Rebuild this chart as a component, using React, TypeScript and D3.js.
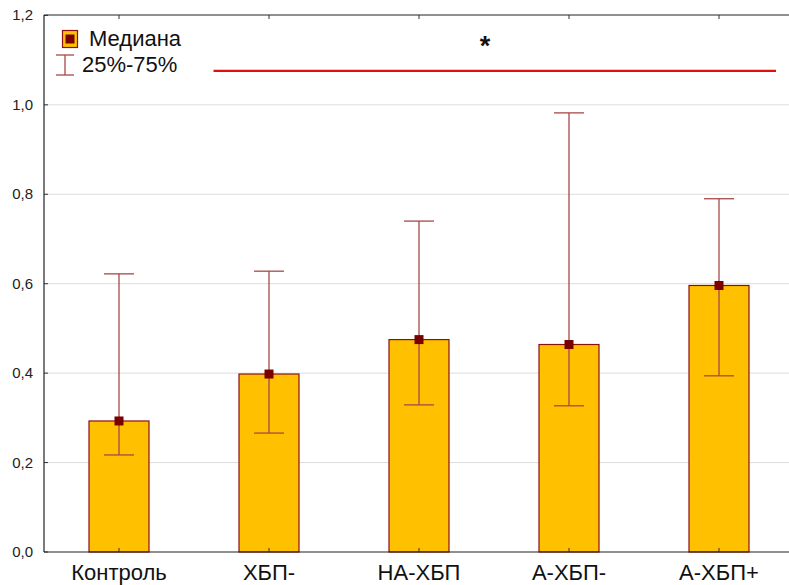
import React from "react";
import * as d3 from "d3";

const categories = ["Контроль", "ХБП-", "НА-ХБП", "А-ХБП-", "А-ХБП+"];
const medians = [0.293, 0.398, 0.475, 0.464, 0.596];
const q25 = [0.217, 0.266, 0.329, 0.327, 0.394];
const q75 = [0.622, 0.628, 0.74, 0.982, 0.79];
const yTicks = [0, 0.2, 0.4, 0.6, 0.8, 1.0, 1.2];
const sigLevel = 1.076;
const sigStart = 0.63; // band-step units from first category centre
const sigEnd = 4.38;
const sigStar = 2.44;

const W = 789;
const H = 585;
const left = 44;
const top = 15;
const bottom = 552;

export default function App() {
  const x = d3.scaleBand<string>().domain(categories).range([left, left + 750]).paddingInner(0.6).paddingOuter(0.3);
  const y = d3.scaleLinear().domain([0, 1.2]).range([bottom, top + 0.4]);
  const bw = 60;
  const cx = (c: string) => (x(c) as number) + x.bandwidth() / 2;
  const step = x.step();
  const c0 = cx(categories[0]);
  const font = "Liberation Sans, Arial, sans-serif";
  return (
    <svg width={W} height={H} style={{ position: "absolute", left: 0, top: 0, background: "#fff" }} fontFamily={font}>
      {yTicks.map((t) => (
        <g key={t}>
          {t > 0 && t < 1.2 && <line x1={left} x2={W} y1={y(t)} y2={y(t)} stroke="#dcdcdc" strokeWidth={1} />}
          <line x1={left} x2={left + 4} y1={y(t)} y2={y(t)} stroke="#333" />
          <text x={33} y={y(t) + 5} textAnchor="end" fontSize={15} fill="#222">
            {t.toFixed(1).replace(".", ",")}
          </text>
        </g>
      ))}
      <line x1={left} x2={W} y1={top} y2={top} stroke="#222" strokeWidth={1.2} />
      {categories.map((c, i) => {
        const xc = cx(c);
        return (
          <g key={c}>
            <rect x={xc - bw / 2} y={y(medians[i])} width={bw} height={bottom - y(medians[i])} fill="#FFC000" stroke="#8B1010" strokeWidth={1.2} />
            <line x1={xc} x2={xc} y1={y(q75[i])} y2={y(q25[i])} stroke="#a84848" strokeWidth={1.3} />
            <line x1={xc - 15} x2={xc + 15} y1={y(q75[i])} y2={y(q75[i])} stroke="#a84848" strokeWidth={1.3} />
            <line x1={xc - 15} x2={xc + 15} y1={y(q25[i])} y2={y(q25[i])} stroke="#a84848" strokeWidth={1.3} />
            <rect x={xc - 4.5} y={y(medians[i]) - 4.5} width={9} height={9} fill="#7a0000" />
            <line x1={xc} x2={xc} y1={bottom} y2={bottom - 4} stroke="#333" />
            <line x1={xc} x2={xc} y1={top} y2={top + 4} stroke="#333" />
            <text x={xc} y={579.5} textAnchor="middle" fontSize={22} fill="#111">
              {c}
            </text>
          </g>
        );
      })}
      <line x1={left} x2={left} y1={top} y2={bottom} stroke="#222" strokeWidth={1.2} />
      <line x1={left} x2={W} y1={bottom} y2={bottom} stroke="#222" strokeWidth={1.2} />
      <line x1={c0 + sigStart * step} x2={c0 + sigEnd * step} y1={y(sigLevel)} y2={y(sigLevel)} stroke="#e01010" strokeWidth={2.2} />
      <text x={c0 + sigStar * step} y={y(sigLevel) - 16} textAnchor="middle" fontSize={27} fontWeight="bold" fill="#111">
        *
      </text>
      <rect x={62.5} y={30.5} width={15} height={17} fill="#FFC000" stroke="#8B1010" strokeWidth={1.2} />
      <rect x={65.5} y={34.5} width={9} height={9} fill="#7a0000" />
      <text x={89} y={46} fontSize={22} fill="#111">Медиана</text>
      <line x1={65} x2={65} y1={55} y2={75} stroke="#a84848" strokeWidth={1.3} />
      <line x1={56} x2={74} y1={55} y2={55} stroke="#a84848" strokeWidth={1.3} />
      <line x1={56} x2={74} y1={75} y2={75} stroke="#a84848" strokeWidth={1.3} />
      <text x={82} y={72} fontSize={22} fill="#111">25%-75%</text>
    </svg>
  );
}
